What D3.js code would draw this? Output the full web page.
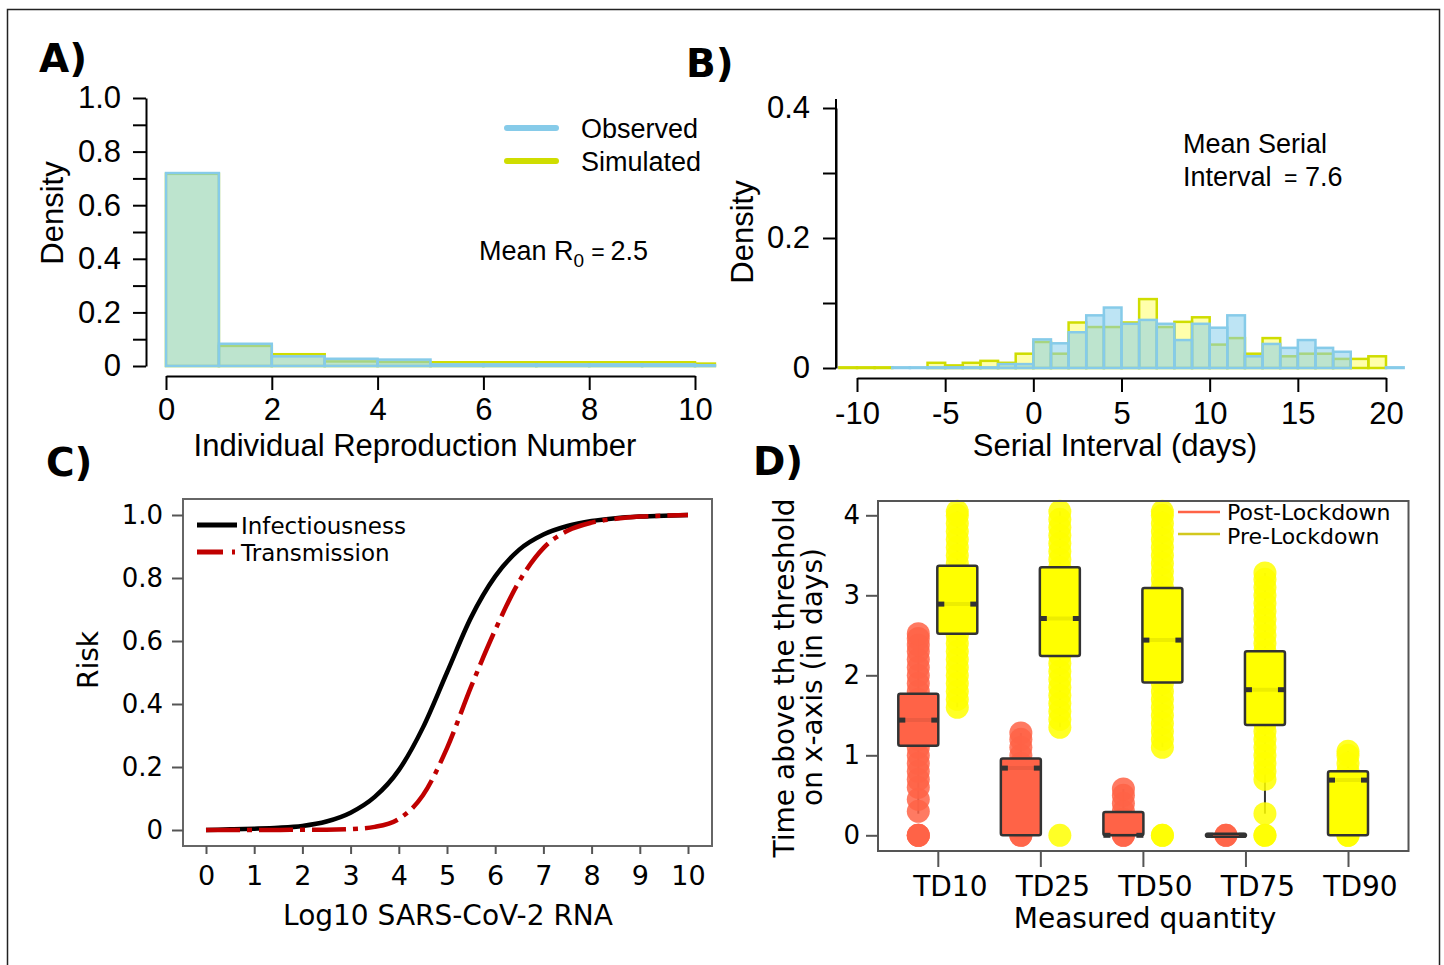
<!DOCTYPE html>
<html><head><meta charset="utf-8">
<script src="https://cdn.jsdelivr.net/npm/d3@7"></script>
<style>body{margin:0;background:#fff}svg{display:block}</style>
</head><body>
<svg id="c" width="1444" height="965"></svg>
<script>
// ---------- DATA ----------
// Panel A: histogram of individual reproduction number (bin left edges, width 1)
const aBins = [0,1,2,3,4,5,6,7,8,9,10];
const aObserved = [0.72,0.083,0.036,0.027,0.024,0.006,0.006,0.006,0.006,0.006,0.003];
const aSimulated = [0.717,0.075,0.044,0.017,0.015,0.014,0.014,0.014,0.014,0.014,0.009];
const aYTicks = [0,0.1,0.2,0.3,0.4,0.5,0.6,0.7,0.8,0.9,1.0];
const aYLabels = {"0":"0","0.2":"0.2","0.4":"0.4","0.6":"0.6","0.8":"0.8","1":"1.0"};
const aXTicks = [0,2,4,6,8,10];

// Panel B: serial interval histogram (bin left edges, width 1 day)
const bBins = [-11,-10,-9,-8,-7,-6,-5,-4,-3,-2,-1,0,1,2,3,4,5,6,7,8,9,10,11,12,13,14,15,16,17,18,19,20];
const bObserved = [0,0,0,0.001,0.001,0.001,0.001,0.001,0.001,0.006,0.006,0.044,0.038,0.055,0.081,0.093,0.068,0.074,0.068,0.043,0.068,0.062,0.081,0.018,0.037,0.031,0.043,0.031,0.025,0,0,0.001];
const bSimulated = [0.001,0.001,0.001,0,0,0.008,0.004,0.008,0.011,0.008,0.022,0.040,0.022,0.070,0.063,0.063,0.070,0.106,0.063,0.071,0.078,0.036,0.046,0.022,0.046,0.018,0.022,0.022,0.014,0.014,0.018,0];
const bYTicks = [0,0.1,0.2,0.3,0.4];
const bYLabels = {"0":"0","0.2":"0.2","0.4":"0.4"};
const bXTicks = [-10,-5,0,5,10,15,20];

// Panel C: risk curves
const cX = [0,0.5,1,1.5,2,2.5,3,3.5,4,4.5,5,5.5,6,6.5,7,7.5,8,8.5,9,9.5,10];
const cInfectiousness = [0,0.002,0.004,0.007,0.013,0.027,0.055,0.105,0.19,0.325,0.5,0.675,0.805,0.89,0.938,0.965,0.981,0.99,0.995,0.998,1.0];
const cTransmission = [0,0,0,0,0.001,0.001,0.003,0.01,0.035,0.11,0.26,0.455,0.635,0.79,0.895,0.95,0.976,0.988,0.995,0.998,1.0];
const cXTicks = [0,1,2,3,4,5,6,7,8,9,10];
const cYTicks = [0,0.2,0.4,0.6,0.8,1.0];
const cYLabels = ["0","0.2","0.4","0.6","0.8","1.0"];

// Panel D: box plots
const dCategories = ["TD10","TD25","TD50","TD75","TD90"];
const dYTicks = [0,1,2,3,4];
const postQ1  = [1.12, 0,    0,    0,    null];
const postMed = [1.44, 0.84, 0,    0,    null];
const postQ3  = [1.77, 0.96, 0.29, 0,    null];
const postLo  = [0.27, 0,    0,    0,    null];
const postHi  = [2.46, 1.28, 0.58, 0,    null];
const preQ1   = [2.52, 2.24, 1.91, 1.38, 0];
const preMed  = [2.89, 2.71, 2.44, 1.82, 0.69];
const preQ3   = [3.37, 3.35, 3.09, 2.30, 0.80];
const preLo   = [1.6,  1.35, 1.1,  0.27, 0];
const preHi   = [4.05, 4.05, 4.05, 3.28, 1.05];
const postPoints = [
  [0,0,0,0.3,0.45,0.6,0.7,0.8,0.9,1.0,1.1,1.2,1.3,1.4,1.5,1.6,1.7,1.8,1.9,2.0,2.1,2.2,2.3,2.38,2.46,2.52],
  [0,0,0.1,0.2,0.3,0.4,0.5,0.6,0.7,0.8,0.9,1.0,1.1,1.2,1.28],
  [0,0,0.1,0.2,0.3,0.4,0.5,0.58],
  [0,0],
  []
];
const prePoints = [
  [1.6,1.7,1.8,1.9,2.0,2.1,2.2,2.3,2.4,2.5,2.6,2.7,2.8,2.9,3.0,3.1,3.2,3.3,3.4,3.5,3.6,3.7,3.8,3.9,4.0,4.05],
  [0,1.35,1.45,1.55,1.65,1.75,1.85,1.95,2.05,2.15,2.25,2.35,2.45,2.55,2.65,2.75,2.85,2.95,3.05,3.15,3.25,3.35,3.45,3.55,3.65,3.75,3.85,3.95,4.05],
  [0,0,1.1,1.2,1.3,1.4,1.5,1.6,1.7,1.8,1.9,2.0,2.1,2.2,2.3,2.4,2.5,2.6,2.7,2.8,2.9,3.0,3.1,3.2,3.3,3.4,3.5,3.6,3.7,3.8,3.9,4.0,4.05],
  [0,0,0.27,0.7,0.8,0.9,1.0,1.1,1.2,1.3,1.4,1.5,1.6,1.7,1.8,1.9,2.0,2.1,2.2,2.3,2.4,2.5,2.6,2.7,2.8,2.9,3.0,3.1,3.2,3.28],
  [0,0,0.1,0.2,0.3,0.4,0.5,0.6,0.7,0.8,0.9,1.0,1.05]
];

// ---------- DRAWING ----------
const svg = d3.select("#c");
const FA = "'Liberation Sans', Arial, Helvetica, sans-serif";
const FD = "'DejaVu Sans', Verdana, sans-serif";

svg.append("rect").attr("x",7.5).attr("y",9.5).attr("width",1432).attr("height",980)
  .attr("fill","none").attr("stroke","#222").attr("stroke-width",1.5);

// panel letters
[["A)",39,72],["B)",686,77],["C)",46,476],["D)",753,475]].forEach(([t,x,y])=>{
  svg.append("text").attr("x",x).attr("y",y).text(t)
    .attr("font-family",FD).attr("font-weight","bold").attr("font-size",39).attr("fill","#000");
});

const OBS_FILL="rgba(135,206,235,0.55)", OBS_STROKE="#86cbe9";
const SIM_FILL="rgba(255,255,0,0.33)", SIM_STROKE="#cfdd00";

function hist(g, x, y, lefts, vals, fill, stroke){
  g.selectAll(null).data(lefts.map((l,i)=>({l, v: vals[i]})).filter(d=>d.v>0)).join("rect")
    .attr("x", d=>x(d.l)).attr("width", d=>x(d.l+1)-x(d.l))
    .attr("y", d=>y(d.v)).attr("height", d=>Math.max(0.5, y(0)-y(d.v)))
    .attr("fill", fill).attr("stroke", stroke).attr("stroke-width", 2.5);
}
function styleAxis(g, font, size, color){
  g.selectAll("text").attr("font-family",font).attr("font-size",size).attr("fill","#000");
  g.selectAll("line").attr("stroke",color).attr("stroke-width",2);
  g.selectAll("path").attr("stroke",color).attr("stroke-width",2);
}

// ===== Panel A =====
const xA = d3.scaleLinear().domain([0,10]).range([166,695]);
const yA = d3.scaleLinear().domain([0,1]).range([366,98]);
const gA = svg.append("g");
svg.append("clipPath").attr("id","clipA").append("rect").attr("x",150).attr("y",80).attr("width",xA(10.4)-150).attr("height",300);
const barsA = gA.append("g").attr("clip-path","url(#clipA)");
hist(barsA, xA, yA, aBins, aSimulated, SIM_FILL, SIM_STROKE);
hist(barsA, xA, yA, aBins, aObserved, OBS_FILL, OBS_STROKE);
const axAy = gA.append("g").attr("transform","translate(146,0)")
  .call(d3.axisLeft(yA).tickValues(aYTicks).tickSize(13).tickSizeOuter(0).tickPadding(12)
    .tickFormat(d=>aYLabels[String(+d.toFixed(1))] || ""));
styleAxis(axAy, FA, 31, "#000");
const axAx = gA.append("g").attr("transform","translate(0,376)")
  .call(d3.axisBottom(xA).tickValues(aXTicks).tickSize(14).tickSizeOuter(0).tickPadding(8).tickFormat(d=>String(d)));
styleAxis(axAx, FA, 31, "#000");
gA.append("text").attr("x",415).attr("y",456).attr("text-anchor","middle")
  .attr("font-family",FA).attr("font-size",31).text("Individual Reproduction Number");
gA.append("text").attr("transform","translate(63,213) rotate(-90)").attr("text-anchor","middle")
  .attr("font-family",FA).attr("font-size",31).text("Density");
// legend A
[[OBS_STROKE,128,"Observed",138],[SIM_STROKE,161,"Simulated",171]].forEach(([c,y,t,ty])=>{
  gA.append("line").attr("x1",507).attr("x2",556).attr("y1",y).attr("y2",y)
    .attr("stroke",c).attr("stroke-width",6).attr("stroke-linecap","round");
  gA.append("text").attr("x",581).attr("y",ty).attr("font-family",FA).attr("font-size",27).text(t);
});
const mA = gA.append("text").attr("font-family",FA).attr("font-size",27).attr("x",479).attr("y",260);
mA.append("tspan").text("Mean R");
mA.append("tspan").attr("dy",7).attr("font-size",19).text("0");
mA.append("tspan").attr("dx",7).attr("dy",-7).attr("font-size",23).text("=");
mA.append("tspan").attr("dx",6).text("2.5");

// ===== Panel B =====
const xB = d3.scaleLinear().domain([-10,20]).range([857,1386]);
const yB = d3.scaleLinear().domain([0,0.4]).range([368,108]);
const gB = svg.append("g");
hist(gB, xB, yB, bBins, bSimulated, SIM_FILL, SIM_STROKE);
hist(gB, xB, yB, bBins, bObserved, OBS_FILL, OBS_STROKE);
const axBy = gB.append("g").attr("transform","translate(836,0)")
  .call(d3.axisLeft(yB).tickValues(bYTicks).tickSize(13).tickSizeOuter(0).tickPadding(13)
    .tickFormat(d=>bYLabels[String(+d.toFixed(1))] || ""));
styleAxis(axBy, FA, 31, "#000");
gB.append("line").attr("x1",836).attr("x2",836).attr("y1",99).attr("y2",368).attr("stroke","#000").attr("stroke-width",2);
const axBx = gB.append("g").attr("transform","translate(0,378)")
  .call(d3.axisBottom(xB).tickValues(bXTicks).tickSize(14).tickSizeOuter(0).tickPadding(10).tickFormat(d=>String(d)));
styleAxis(axBx, FA, 31, "#000");
gB.append("text").attr("x",1115).attr("y",456).attr("text-anchor","middle")
  .attr("font-family",FA).attr("font-size",31).text("Serial Interval (days)");
gB.append("text").attr("transform","translate(753,232) rotate(-90)").attr("text-anchor","middle")
  .attr("font-family",FA).attr("font-size",31).text("Density");
gB.append("text").attr("x",1183).attr("y",153).attr("font-family",FA).attr("font-size",27).text("Mean Serial");
const mB = gB.append("text").attr("font-family",FA).attr("font-size",27).attr("y",186);
mB.append("tspan").attr("x",1183).text("Interval");
mB.append("tspan").attr("x",1284).attr("font-size",23).text("=");
mB.append("tspan").attr("x",1305).text("7.6");

// ===== Panel C =====
const xC = d3.scaleLinear().domain([0,10]).range([206,688]);
const yC = d3.scaleLinear().domain([0,1]).range([830,515]);
const gC = svg.append("g");
gC.append("rect").attr("x",183).attr("y",499).attr("width",529).attr("height",347)
  .attr("fill","none").attr("stroke","#666").attr("stroke-width",2);
const axCy = gC.append("g").attr("transform","translate(183,0)")
  .call(d3.axisLeft(yC).tickValues(cYTicks).tickSize(11).tickSizeOuter(0).tickPadding(9)
    .tickFormat((d,i)=>cYLabels[i]));
axCy.select(".domain").remove();
styleAxis(axCy, FD, 26, "#555");
const axCx = gC.append("g").attr("transform","translate(0,846)")
  .call(d3.axisBottom(xC).tickValues(cXTicks).tickSize(8).tickSizeOuter(0).tickPadding(12).tickFormat(d=>String(d)));
axCx.select(".domain").remove();
styleAxis(axCx, FD, 27, "#555");
const lineC = (ys)=>d3.line().x((d,i)=>xC(cX[i])).y(d=>yC(d)).curve(d3.curveMonotoneX)(ys);
gC.append("path").attr("d",lineC(cInfectiousness)).attr("fill","none").attr("stroke","#000").attr("stroke-width",4.5);
gC.append("path").attr("d",lineC(cTransmission)).attr("fill","none").attr("stroke","#c00000")
  .attr("stroke-width",4.5).attr("stroke-dasharray","34,7,5,7");
gC.append("line").attr("x1",197).attr("x2",237).attr("y1",525).attr("y2",525).attr("stroke","#000").attr("stroke-width",5);
gC.append("line").attr("x1",197).attr("x2",237).attr("y1",552).attr("y2",552).attr("stroke","#c00000")
  .attr("stroke-width",5).attr("stroke-dasharray","26,9,3,20");
gC.append("text").attr("x",241).attr("y",534).attr("font-family",FD).attr("font-size",23).text("Infectiousness");
gC.append("text").attr("x",241).attr("y",561).attr("font-family",FD).attr("font-size",23).text("Transmission");
gC.append("text").attr("x",448).attr("y",925).attr("text-anchor","middle").attr("font-family",FD).attr("font-size",28).text("Log10 SARS-CoV-2 RNA");
gC.append("text").attr("transform","translate(98,660) rotate(-90)").attr("text-anchor","middle")
  .attr("font-family",FD).attr("font-size",28).text("Risk");

// ===== Panel D =====
const xD = d3.scalePoint().domain(dCategories).range([937.8,1348]);
const yD = d3.scaleLinear().domain([0,4]).range([835.3,515.3]);
const gD = svg.append("g");
const POST="#ff6347", PRE="#ffff00";
const axDy = gD.append("g").attr("transform","translate(878,0)")
  .call(d3.axisLeft(yD).tickValues(dYTicks).tickSize(12).tickSizeOuter(0).tickPadding(6).tickFormat(d=>String(d)));
axDy.select(".domain").remove();
styleAxis(axDy, FD, 26, "#555");
const axDx = gD.append("g").attr("transform","translate(0,851)")
  .call(d3.axisBottom(xD).tickSize(16).tickSizeOuter(0).tickPadding(9));
axDx.select(".domain").remove();
styleAxis(axDx, FD, 28, "#555");
axDx.selectAll("text").attr("dx",12);

const boxes = [];
dCategories.forEach((c,i)=>{
  const hasPost = postMed[i] !== null;
  const xc = xD(c);
  if (hasPost) boxes.push({cx: xc-19.5, q1: postQ1[i], med: postMed[i], q3: postQ3[i], lo: postLo[i], hi: postHi[i], pts: postPoints[i], col: POST});
  boxes.push({cx: hasPost ? xc+19.5 : xc, q1: preQ1[i], med: preMed[i], q3: preQ3[i], lo: preLo[i], hi: preHi[i], pts: prePoints[i], col: PRE});
});
const bw = 40;
// whiskers
boxes.forEach(b=>{
  gD.append("line").attr("x1",b.cx).attr("x2",b.cx).attr("y1",yD(b.lo)).attr("y2",yD(b.hi))
    .attr("stroke","#333").attr("stroke-width",2);
});
// points
boxes.forEach(b=>{
  gD.append("g").selectAll("circle").data(b.pts).join("circle")
    .attr("cx",b.cx).attr("cy",d=>yD(d)).attr("r",11.5)
    .attr("fill",b.col).attr("fill-opacity",0.85);
});
// boxes
boxes.forEach(b=>{
  const y3 = yD(b.q3), y1 = yD(b.q1);
  const h = Math.max(3, y1-y3);
  const yt = (y1-y3) < 3 ? y1-1.5 : y3;
  gD.append("rect").attr("x",b.cx-bw/2).attr("y",yt).attr("width",bw).attr("height",h).attr("rx",2)
    .attr("fill",b.col).attr("stroke","#333").attr("stroke-width",2.5);
  const ym = yD(b.med);
  gD.append("line").attr("x1",b.cx-bw/2).attr("x2",b.cx+bw/2).attr("y1",ym).attr("y2",ym)
    .attr("stroke","rgba(0,0,0,0.07)").attr("stroke-width",4);
  gD.append("rect").attr("x",b.cx-bw/2).attr("y",ym-2.5).attr("width",7).attr("height",5).attr("fill","#333");
  gD.append("rect").attr("x",b.cx+bw/2-7).attr("y",ym-2.5).attr("width",7).attr("height",5).attr("fill","#333");
});
gD.append("rect").attr("x",878).attr("y",501).attr("width",530.5).attr("height",350)
  .attr("fill","none").attr("stroke","#555").attr("stroke-width",2);
// legend D
[[POST,512,"Post-Lockdown",520],["#d2c81e",534,"Pre-Lockdown",544]].forEach(([c,y,t,ty])=>{
  gD.append("line").attr("x1",1178).attr("x2",1220).attr("y1",y).attr("y2",y).attr("stroke",c).attr("stroke-width",2.5);
  gD.append("text").attr("x",1227).attr("y",ty).attr("font-family",FD).attr("font-size",22).text(t);
});
gD.append("text").attr("x",1145).attr("y",928).attr("text-anchor","middle").attr("font-family",FD).attr("font-size",28).text("Measured quantity");
gD.append("text").attr("transform","translate(794,678) rotate(-90)").attr("text-anchor","middle")
  .attr("font-family",FD).attr("font-size",28).text("Time above the threshold");
gD.append("text").attr("transform","translate(822,677) rotate(-90)").attr("text-anchor","middle")
  .attr("font-family",FD).attr("font-size",28).text("on x-axis (in days)");
</script>
</body></html>
